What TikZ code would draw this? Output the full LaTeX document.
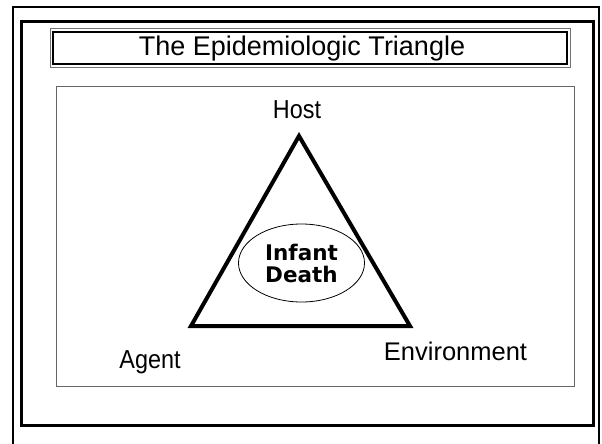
\documentclass[tikz,border=0pt]{standalone}
\usepackage{fontspec}
\setmainfont{Liberation Sans}
\newfontfamily\narrowfont[FakeStretch=0.9]{Liberation Sans}
\newfontfamily\widefont{DejaVu Sans}
\usetikzlibrary{shapes}
\tikzstyle{cornertext}=[font=\narrowfont\fontsize{26}{28}\selectfont,inner sep=0pt,anchor=base]
\tikzstyle{titletext}=[font=\fontsize{27}{30}\selectfont,inner sep=0pt,anchor=base]
\tikzstyle{middletext}=[ellipse,draw,line width=0.8pt,inner sep=0pt,minimum width=126pt,minimum height=78pt,align=center,font=\widefont\bfseries\fontsize{21.5}{22}\selectfont]
\tikzstyle{side} = [draw,line width=4pt,line join=miter]

\begin{document}
\begin{tikzpicture}[x=1pt,y=-1pt]
    \useasboundingbox (0,0) rectangle (602,444);
    % Draw the page borders first
    \draw[line width=1.5pt] (13,450) -- (13,7) -- (599,7) -- (599,450);
    \draw[line width=3pt] (21.5,21.5) rectangle (593.5,425.5);
    % Then the title box and the frame of the figure
    \draw[black!55,line width=1pt] (50,29) rectangle (570,67.5);
    \draw[line width=2pt] (53,32) rectangle (567,64.5);
    \node[titletext] (title) at (302,56) {The Epidemiologic Triangle};
    \draw[black!60,line width=0.8pt] (56,86) rectangle (574,386);
    % The corners of the triangle and their names
    \coordinate (host) at (299,136);
    \coordinate (agent) at (191,326);
    \coordinate (env) at (410,326);
    \foreach \lpos/\lname/\ltext in {{(297,118.3)/hostname/Host}, {(150,368)/agentname/Agent}}
        \node[cornertext] (\lname) at \lpos {\ltext};
    \node[cornertext, font=\fontsize{25.5}{28}\selectfont] (envname) at (455.5,360) {Environment};
    \path[side] (host) -- (agent) -- (env) -- cycle;
    \node[middletext] (death) at (301.5,263) {Infant\\Death};
\end{tikzpicture}
\end{document}
